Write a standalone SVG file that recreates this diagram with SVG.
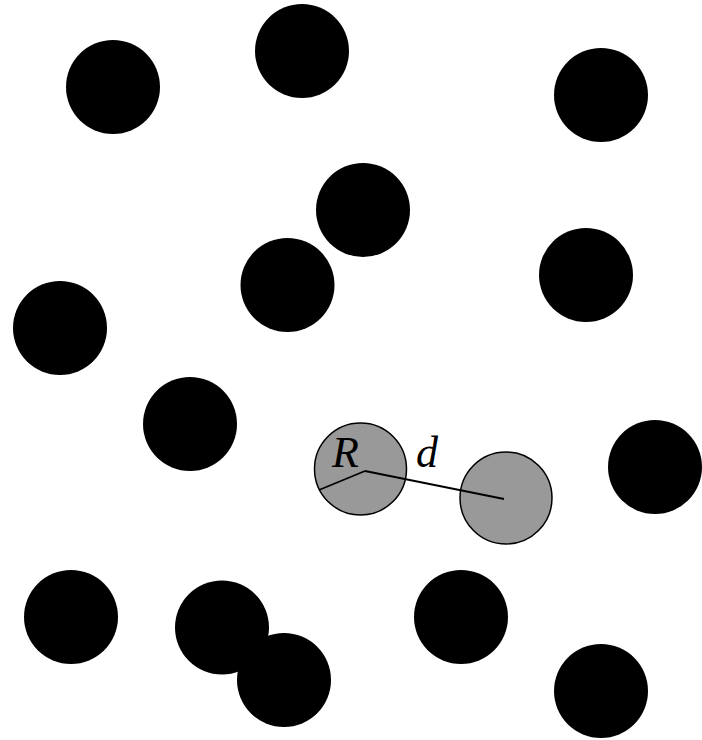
<svg xmlns="http://www.w3.org/2000/svg" width="702" height="740" viewBox="0 0 702 740">
<style>
.b{fill:#000}
.g{fill:#999;stroke:#000;stroke-width:1.5}
.l{stroke:#000;stroke-width:1.8;fill:none}
.t{font-family:"Liberation Serif",serif;font-style:italic;font-size:44px;fill:#000}
</style>
<rect width="702" height="740" fill="#fff"/>
<g id="c1"><circle class="b" cx="113" cy="87" r="47"/></g>
<g id="c2"><circle class="b" cx="302" cy="51" r="47"/></g>
<g id="c3"><circle class="b" cx="601" cy="95" r="47"/></g>
<g id="c4"><circle class="b" cx="363" cy="210" r="47"/></g>
<g id="c5"><circle class="b" cx="287.5" cy="285" r="47"/></g>
<g id="c6"><circle class="b" cx="586" cy="275" r="47"/></g>
<g id="c7"><circle class="b" cx="60" cy="328" r="47"/></g>
<g id="c8"><circle class="b" cx="190" cy="424" r="47"/></g>
<g id="c9"><circle class="b" cx="655" cy="467" r="47"/></g>
<g id="c10"><circle class="b" cx="71" cy="617" r="47"/></g>
<g id="c11"><circle class="b" cx="222" cy="627.5" r="47"/></g>
<g id="c12"><circle class="b" cx="284" cy="680" r="47"/></g>
<g id="c13"><circle class="b" cx="461" cy="617" r="47"/></g>
<g id="c14"><circle class="b" cx="601" cy="691" r="47"/></g>
<g id="g1"><circle class="g" cx="360.5" cy="469" r="46"/></g>
<g id="g2"><circle class="g" cx="506" cy="498" r="46"/></g>
<g id="connectors">
<line class="l" x1="365" y1="471" x2="319" y2="490"/>
<line class="l" x1="365" y1="471" x2="504" y2="499"/>
</g>
<text class="t" x="332" y="467">R</text>
<text class="t" x="416" y="467">d</text>
</svg>
